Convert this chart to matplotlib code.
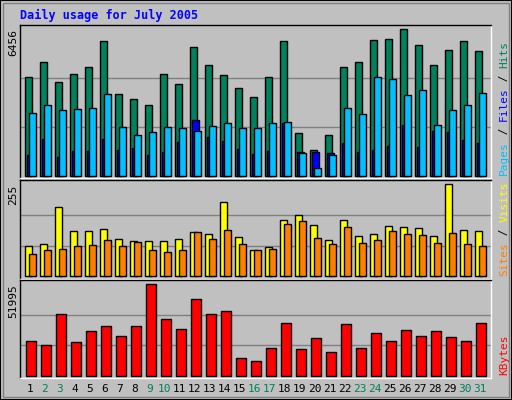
import numpy as np
import matplotlib.pyplot as plt
from matplotlib.patches import Rectangle

days = list(range(1, 32))
weekend = [2, 3, 9, 10, 16, 17, 23, 24, 30, 31]
hits = [4380, 5040, 4130, 4470, 4780, 5930, 3600, 3380, 3110, 4510, 4070, 5660, 4870, 4430, 3860, 3500, 4340,
        5930, 1880, 1130, 1790, 4820, 5000, 5970, 6020, 6456, 5780, 4900, 5560, 5930, 5500]
files = [2770, 3130, 2910, 2950, 3000, 3620, 2150, 1790, 1920, 2150, 2110, 1980, 2200, 2330, 2110, 2110, 2330,
         2380, 1030, 340, 910, 3000, 2730, 4340, 4260, 3560, 3780, 2240, 2890, 3130, 3670]
pages = [910, 1620, 820, 1090, 1090, 1620, 1140, 1230, 910, 1060, 1500, 2460, 1720, 1540, 1170, 950, 1090,
         2330, 1060, 1060, 1030, 1440, 1060, 1140, 1320, 2240, 1270, 1980, 1920, 1590, 1440]
visits = [84, 89, 192, 125, 125, 130, 103, 97, 97, 97, 103, 122, 117, 206, 108, 72, 81,
          156, 170, 142, 101, 156, 111, 117, 139, 136, 133, 111, 255, 128, 125]
sites = [62, 72, 75, 83, 86, 100, 83, 94, 72, 67, 72, 122, 103, 128, 89, 72, 75,
         145, 153, 106, 89, 136, 92, 100, 125, 117, 114, 92, 120, 89, 83]
kbytes = [19550, 17270, 34900, 18980, 25240, 28080, 22380, 28080, 51995, 32050, 26380, 43460, 34900, 36610,
          9870, 8160, 15560, 29790, 14990, 21250, 13280, 29220, 15560, 24100, 19550, 25810, 22380, 25240,
          21820, 19550, 29790]

BG = "#C0C0C0"
fig = plt.figure(figsize=(5.12, 4.0), dpi=100, facecolor=BG)
mono = "DejaVu Sans Mono"
x = np.arange(len(days))

fig.patches.append(Rectangle((0, 0), 1, 1, transform=fig.transFigure, fill=False, ec="black", lw=1.5))
fig.patches.append(Rectangle((3/512, 3/400), 506/512, 394/400, transform=fig.transFigure,
                             fill=False, ec="#808080", lw=1))

L, W = 20/512, 471/512
panels = [
    (0.555, 0.383, 6456, (-88, 6456 + 202)),
    (0.303, 0.246, 255, (-6.7, 266)),
    (0.055, 0.244, 51995, (-1310, 51995 + 2275)),
]
axes = []
for b, h, top, yl in panels:
    ax = fig.add_axes([L, b, W, h], facecolor=BG)
    ax.set_xlim(-0.35, 31.05)
    ax.set_ylim(*yl)
    ax.set_xticks([]); ax.set_yticks([])
    for s in ax.spines.values():
        s.set_color("black"); s.set_linewidth(1)
    ax.spines["right"].set_color("white"); ax.spines["bottom"].set_color("white")
    for g in (top / 3, 2 * top / 3):
        ax.axhline(g, color="#808080", lw=1, zorder=0)
    ax.text(-6.5 / 471, 1 - 4 / (h * 400), str(top), transform=ax.transAxes, rotation=90,
            ha="center", va="top", fontsize=8, family=mono)
    axes.append(ax)

bw = 0.47
kw = dict(edgecolor="black", linewidth=1, align="edge")
a = axes[0]
a.bar(x, hits, bw, color="#00805C", **kw)
a.bar(x + 0.11, pages, bw, color="#0000FF", **kw)
a.bar(x + 0.27, files, bw, color="#00C0FF", **kw)
a = axes[1]
a.bar(x, visits, bw, color="#FFFF00", **kw)
a.bar(x + 0.27, sites, bw, color="#FF8000", **kw)
a = axes[2]
a.bar(x + 0.03, kbytes, 0.66, color="#FF0000", **kw)

CH = 6.7  # px per mono char at 8pt

def side_label(ax, parts):
    hpx = ax.get_position().height * 400
    y = 3.0
    for txt, col in parts:
        ax.text(1.028, y / hpx, txt, transform=ax.transAxes, rotation=90, ha="center",
                va="bottom", fontsize=8, family=mono, color=col)
        y += len(txt) * CH

side_label(axes[0], [("Pages", "#00C0FF"), (" / ", "black"), ("Files", "#0000FF"), (" / ", "black"), ("Hits", "#00805C")])
side_label(axes[1], [("Sites", "#FF8000"), (" / ", "black"), ("Visits", "#FFFF00")])
side_label(axes[2], [("KBytes", "#FF0000")])

for i, d in enumerate(days):
    xf = (25.3 + 15 * i + 4.5) / 512
    fig.text(xf, 11 / 400, str(d), ha="center", va="center", fontsize=8, family=mono,
             color="#00805C" if d in weekend else "black")

fig.text(20 / 512, 385 / 400, "Daily usage for July 2005", ha="left", va="center",
         fontsize=8.5, family=mono, weight="bold", color="#0000FF")

fig.savefig("out.png", dpi=100, facecolor=BG)
